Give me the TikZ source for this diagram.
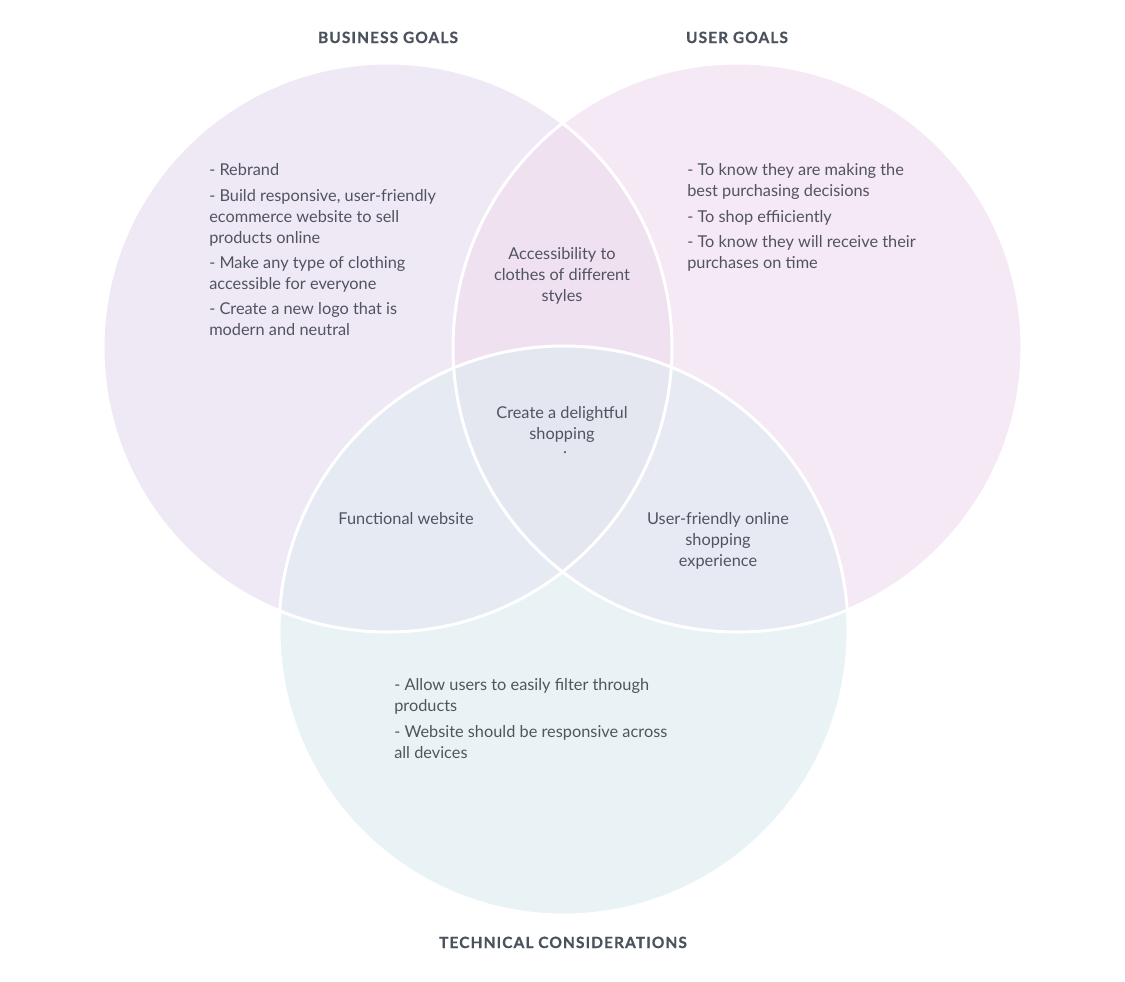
\documentclass[tikz,border=0pt]{standalone}
\usepackage{fontspec}
\setmainfont{Lato}
\newfontfamily\titlefont[LetterSpace=7,FakeBold=0.6]{Lato Bold}
\definecolor{cB}{HTML}{EFE9F5}
\definecolor{cU}{HTML}{F5E9F5}
\definecolor{cT}{HTML}{E9F3F6}
\definecolor{cBU}{HTML}{F0E1F1}
\definecolor{cBT}{HTML}{E5EAF3}
\definecolor{cUT}{HTML}{E7E9F3}
\definecolor{cBUT}{HTML}{E4E7F0}
\definecolor{txt}{HTML}{50545E}
\definecolor{ttl}{HTML}{4A525D}
\tikzset{
  body/.style={font=\fontsize{12.25}{15}\selectfont, text=txt, inner sep=0pt},
  lft/.style={body, anchor=base west},
  ctr/.style={body, anchor=base},
  title/.style={font=\titlefont\fontsize{11.6}{13}\selectfont, text=ttl, inner sep=0pt, anchor=base},
  ring/.style={draw=white, line width=2.25pt}
}
\begin{document}
\begin{tikzpicture}[x=0.75pt,y=-0.75pt]
\useasboundingbox[fill=white] (0,0) rectangle (1125,982);
\coordinate (B) at (387.5,347.5);
\coordinate (U) at (737.5,347.5);
\coordinate (T) at (563.5,630.5);
\def\R{284.5}
% base fills
\fill[cB] (B) circle[radius=\R];
\fill[cU] (U) circle[radius=\R];
\fill[cT] (T) circle[radius=\R];
% overlaps
\begin{scope}
  \clip (B) circle[radius=\R];
  \fill[cBU] (U) circle[radius=\R];
  \fill[cBT] (T) circle[radius=\R];
\end{scope}
\begin{scope}
  \clip (U) circle[radius=\R];
  \fill[cUT] (T) circle[radius=\R];
\end{scope}
\begin{scope}
  \clip (B) circle[radius=\R];
  \clip (U) circle[radius=\R];
  \fill[cBUT] (T) circle[radius=\R];
\end{scope}
% outlines
\draw[ring] (B) circle[radius=\R];
\draw[ring] (U) circle[radius=\R];
\draw[ring] (T) circle[radius=\R];
% titles
\node[title] (tB) at (388,43) {BUSINESS GOALS};
\node[title] (tU) at (737,43) {USER GOALS};
\node[title] (tT) at (563,948) {TECHNICAL CONSIDERATIONS};
% business goals
\node[lft] (b1) at (209,175) {- Rebrand};
\node[lft] (b2) at (209,201) {- Build responsive, user-friendly};
\node[lft] (b3) at (209,222) {ecommerce website to sell};
\node[lft] (b4) at (209,243) {products online};
\node[lft] (b5) at (209,268) {- Make any type of clothing};
\node[lft] (b6) at (209,289) {accessible for everyone};
\node[lft] (b7) at (209,314) {- Create a new logo that is};
\node[lft] (b8) at (209,335) {modern and neutral};
% user goals
\node[lft] (u1) at (687,175) {- To know they are making the};
\node[lft] (u2) at (687,196) {best purchasing decisions};
\node[lft] (u3) at (687,222) {- To shop effiiciently};
\node[lft] (u4) at (687,247) {- To know they will receive their};
\node[lft] (u5) at (687,268) {purchases on time};
% technical
\node[lft] (t1) at (394,690) {- Allow users to easily filter through};
\node[lft] (t2) at (394,711) {products};
\node[lft] (t3) at (394,737) {- Website should be responsive across};
\node[lft] (t4) at (394,758) {all devices};
% overlaps text
\node[ctr] (a1) at (562,259) {Accessibility to};
\node[ctr] (a2) at (562,280) {clothes of different};
\node[ctr] (a3) at (562,301) {styles};
\node[ctr] (c1) at (562,418) {Create a delightful};
\node[ctr] (c2) at (562,439) {shopping};
\begin{scope}
  \clip (500,448) rectangle (630,453.5);
  \node[ctr] (c3) at (562,463.5) {experience};
\end{scope}
\node[ctr] (f1) at (406,524) {Functional website};
\node[ctr] (s1) at (718,524) {User-friendly online};
\node[ctr] (s2) at (718,545) {shopping};
\node[ctr] (s3) at (718,566) {experience};
\end{tikzpicture}
\end{document}
